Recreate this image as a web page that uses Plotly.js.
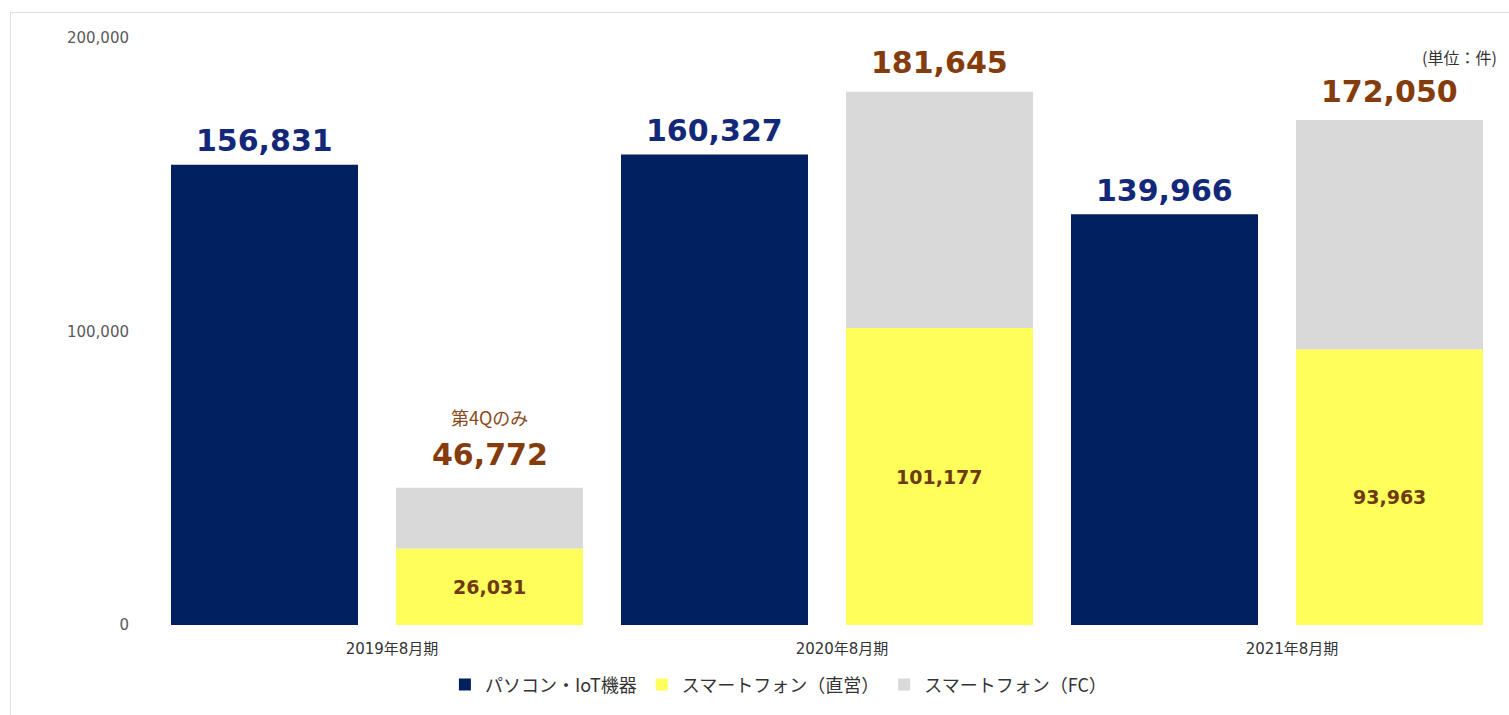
<!DOCTYPE html>
<html>
<head>
<meta charset="utf-8">
<script src="https://cdn.plot.ly/plotly-3.0.1.min.js"></script>
<style>
  html, body { margin: 0; padding: 0; background: #fff; }
  #frame { position: absolute; left: 10px; top: 12px; width: 1520px; height: 720px; border-left: 1px solid #e0e0e0; border-top: 1px solid #e0e0e0; pointer-events: none; }
  #chart { position: absolute; left: 0; top: 0; width: 1509px; height: 715px; }
</style>
</head>
<body>
<div id="chart"></div>
<div id="frame"></div>
<script>
// Data
const categories = ['2019年8月期', '2020年8月期', '2021年8月期'];
const pcIot = [156831, 160327, 139966];          // パソコン・IoT機器
const phoneDirect = [26031, 101177, 93963];      // スマートフォン（直営）
const phoneFC = [20741, 80468, 78087];           // スマートフォン（FC）
const phoneTotal = [46772, 181645, 172050];      // スマートフォン合計
const seriesNames = ['パソコン・IoT機器', 'スマートフォン（直営）', 'スマートフォン（FC）'];
const noteLabel = '第4Qのみ';
const unitLabel = '(単位：件)';

const NAVY = '#002060';
const NAVY_TXT = '#14287a';
const YELLOW = '#ffff5c';
const GRAY = '#d9d9d9';
const BROWN = '#843c0c';
const BROWN_IN = '#6e3a10';
const NUMFONT = 'DejaVu Sans, Verdana, sans-serif';
const JPFONT = 'Noto Sans CJK JP, sans-serif';

const fmt = v => v.toLocaleString('en-US');

const traces = [
  { type: 'bar', name: seriesNames[0], x: categories, y: pcIot, offsetgroup: 'a',
    marker: { color: NAVY }, hoverinfo: 'none' },
  { type: 'bar', name: seriesNames[1], x: categories, y: phoneDirect, offsetgroup: 'b',
    marker: { color: YELLOW }, hoverinfo: 'none' },
  { type: 'bar', name: seriesNames[2], x: categories, y: phoneFC, base: phoneDirect, offsetgroup: 'b',
    marker: { color: GRAY }, hoverinfo: 'none' }
];

const ann = [];
const SHIFT = 112.5;
const innerShift = [0, 0, -10];
categories.forEach((c, i) => {
  ann.push({ x: c, y: pcIot[i], xref: 'x', yref: 'y', xshift: -SHIFT, yshift: 24,
    text: '<b>' + fmt(pcIot[i]) + '</b>', showarrow: false, yanchor: 'middle',
    font: { family: NUMFONT, size: 30, color: NAVY_TXT } });
  ann.push({ x: c, y: phoneTotal[i], xref: 'x', yref: 'y', xshift: SHIFT, yshift: i === 0 ? 33 : 29,
    text: '<b>' + fmt(phoneTotal[i]) + '</b>', showarrow: false, yanchor: 'middle',
    font: { family: NUMFONT, size: 30, color: BROWN } });
  ann.push({ x: c, y: phoneDirect[i] / 2, xref: 'x', yref: 'y', xshift: SHIFT, yshift: innerShift[i],
    text: '<b>' + fmt(phoneDirect[i]) + '</b>', showarrow: false, yanchor: 'middle',
    font: { family: NUMFONT, size: 19, color: BROWN_IN } });
});
ann.push({ x: categories[0], y: phoneTotal[0], xref: 'x', yref: 'y', xshift: SHIFT, yshift: 71,
  text: noteLabel, showarrow: false, yanchor: 'middle',
  font: { family: JPFONT, size: 18, color: '#8a4a20' } });
ann.push({ x: 0.998, y: 0.9676, xref: 'paper', yref: 'paper', xanchor: 'right', yanchor: 'middle',
  text: unitLabel, showarrow: false, font: { family: JPFONT, size: 16, color: '#333' } });

const layout = {
  width: 1509, height: 715,
  margin: { l: 152, r: 7, t: 38, b: 90, pad: 0 },
  paper_bgcolor: '#fff', plot_bgcolor: '#fff',
  barmode: 'group', bargap: 0, bargroupgap: 0.169,
  showlegend: true,
  legend: { orientation: 'h', x: 0.464, xanchor: 'center', y: -0.102, yanchor: 'middle',
    font: { family: JPFONT, size: 18, color: '#333' }, traceorder: 'normal', itemwidth: 30 },
  xaxis: { type: 'category', showgrid: false, zeroline: false, showline: false, ticks: '',
    tickfont: { family: 'DejaVu Sans, Noto Sans CJK JP, sans-serif', size: 15, color: '#333' },
    ticklabelshift: 15, ticklabelstandoff: 13 },
  yaxis: { range: [0, 200000], dtick: 100000, tickformat: ',d', showgrid: false, zeroline: false,
    showline: false, ticks: '', ticklabelstandoff: 22,
    tickfont: { family: NUMFONT, size: 15, color: '#595959' } },
  annotations: ann
};

Plotly.newPlot('chart', traces, layout, { displayModeBar: false, staticPlot: true });
</script>
</body>
</html>
